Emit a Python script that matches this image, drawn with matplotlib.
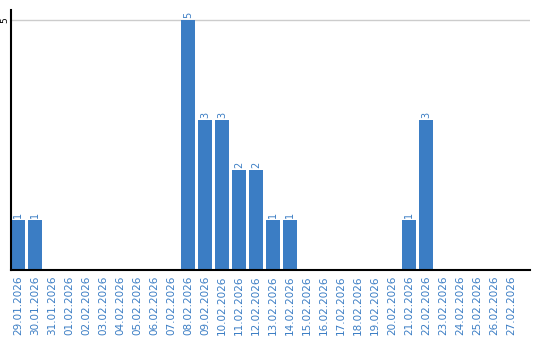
import matplotlib
matplotlib.use("Agg")
import matplotlib.pyplot as plt

dates = ["29.01.2026", "30.01.2026", "31.01.2026", "01.02.2026", "02.02.2026",
         "03.02.2026", "04.02.2026", "05.02.2026", "06.02.2026", "07.02.2026",
         "08.02.2026", "09.02.2026", "10.02.2026", "11.02.2026", "12.02.2026",
         "13.02.2026", "14.02.2026", "15.02.2026", "16.02.2026", "17.02.2026",
         "18.02.2026", "19.02.2026", "20.02.2026", "21.02.2026", "22.02.2026",
         "23.02.2026", "24.02.2026", "25.02.2026", "26.02.2026", "27.02.2026"]
counts = [1, 1, 0, 0, 0, 0, 0, 0, 0, 0,
          5, 3, 3, 2, 2, 1, 1, 0, 0, 0,
          0, 0, 0, 1, 3, 0, 0, 0, 0, 0]

blue = "#3b7dc4"

fig = plt.figure(figsize=(5.4, 3.4), dpi=100)
ax = fig.add_axes([11/540, 70/340, 519/540, 260/340])

x = list(range(len(dates)))
ax.bar(x, counts, width=14/17, color=blue, zorder=2)
for i, v in zip(x, counts):
    if v > 0:
        ax.text(i, v + 0.04, str(v), rotation=90, ha="center", va="bottom",
                color=blue, fontsize=7)

ax.set_xlim(-7/17, 512/17)
ax.set_ylim(0, 5.2)
ax.set_yticks([5])
ax.set_yticklabels(["5"], rotation=90, va="center", fontsize=6.5)
ax.yaxis.grid(True, color="#cccccc", linewidth=1, zorder=0)
ax.set_xticks(x)
ax.set_xticklabels(dates, rotation=90, color=blue, fontsize=7.5)
ax.tick_params(length=0, pad=4)
ax.tick_params(axis="y", pad=1.5)
for s in ["top", "right"]:
    ax.spines[s].set_visible(False)
for s in ["left", "bottom"]:
    ax.spines[s].set_linewidth(1.5)
    ax.spines[s].set_zorder(3)

fig.savefig("out.png", dpi=100)
